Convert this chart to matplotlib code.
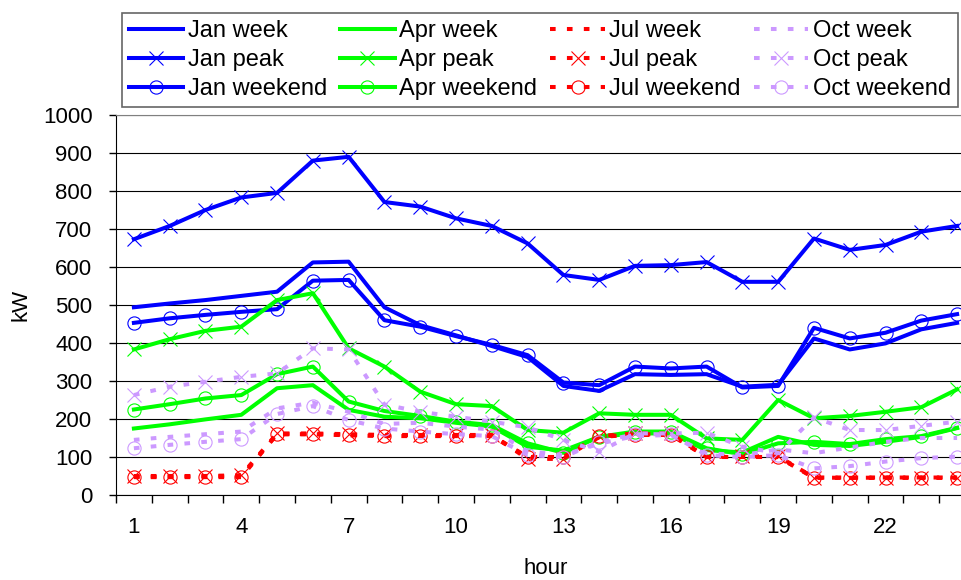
import numpy as np
import matplotlib.pyplot as plt

plt.rcParams['font.family'] = ['Liberation Sans', 'DejaVu Sans']

hours = list(range(1, 25))

jan_week = [494, 504, 513, 524, 535, 612, 614, 494, 447, 420, 392, 363,
            287, 274, 318, 316, 318, 285, 290, 412, 383, 399, 436, 453]
jan_peak = [673, 708, 750, 783, 795, 880, 890, 771, 759, 728, 708, 662,
            579, 566, 603, 605, 613, 561, 561, 675, 645, 658, 693, 708]
jan_weekend = [453, 465, 474, 482, 489, 564, 566, 460, 443, 418, 395, 368,
               296, 289, 338, 333, 338, 283, 287, 440, 412, 427, 459, 476]

apr_week = [175, 186, 199, 211, 281, 289, 224, 206, 202, 190, 180, 127,
            117, 153, 162, 162, 118, 112, 153, 132, 129, 140, 153, 176]
apr_peak = [383, 410, 432, 443, 513, 531, 386, 338, 272, 239, 234, 171,
            164, 215, 211, 211, 149, 145, 250, 202, 208, 219, 231, 278]
apr_weekend = [225, 239, 254, 263, 318, 338, 246, 221, 208, 193, 184, 136,
               111, 153, 167, 167, 123, 107, 136, 140, 134, 147, 155, 177]

jul_week = [48, 48, 50, 50, 160, 160, 158, 157, 157, 157, 157, 100,
            100, 152, 160, 160, 100, 100, 100, 46, 46, 46, 46, 46]
jul_peak = [50, 50, 50, 52, 162, 162, 160, 158, 158, 158, 158, 95,
            95, 155, 162, 162, 100, 102, 102, 46, 45, 46, 46, 46]
jul_weekend = [47, 47, 47, 47, 160, 160, 157, 155, 155, 155, 155, 100,
               100, 155, 158, 158, 100, 100, 100, 45, 45, 45, 45, 45]

oct_week = [145, 153, 160, 167, 228, 243, 219, 187, 190, 180, 172, 115,
            105, 135, 155, 158, 110, 105, 120, 110, 125, 140, 150, 150]
oct_peak = [263, 285, 298, 311, 320, 386, 383, 238, 219, 206, 193, 178,
            145, 114, 162, 162, 164, 127, 110, 204, 171, 171, 182, 193]
oct_weekend = [123, 132, 140, 147, 213, 234, 197, 175, 167, 160, 155, 105,
               100, 140, 160, 160, 105, 100, 105, 70, 76, 88, 97, 101]

months = ['Jan', 'Apr', 'Jul', 'Oct']
colors = ['#0000FF', '#00FF00', '#FF0000', '#CC99FF']
series = {
    'Jan': (jan_week, jan_peak, jan_weekend),
    'Apr': (apr_week, apr_peak, apr_weekend),
    'Jul': (jul_week, jul_peak, jul_weekend),
    'Oct': (oct_week, oct_peak, oct_weekend),
}
styles = {'Jan': '-', 'Apr': '-', 'Jul': (0, (1.4, 2.8)), 'Oct': (0, (1.4, 2.8))}

fig = plt.figure(figsize=(9.62, 5.8), dpi=100)
ax = fig.add_axes([116 / 962, 85 / 580, 859 / 962, 380 / 580])

lw = 2.9
for m, c in zip(months, colors):
    week, peak, weekend = series[m]
    ls = styles[m]
    ax.plot(hours, week, color=c, lw=lw, ls=ls, label=m + ' week')
    ax.plot(hours, peak, color=c, lw=lw, ls=ls, marker='x', ms=9.5,
            mew=0.8, label=m + ' peak')
    ax.plot(hours, weekend, color=c, lw=lw, ls=ls, marker='o', ms=9.5,
            mew=0.8, mfc='none', label=m + ' weekend')

ax.set_xlim(0.5, 24.5)
ax.set_ylim(0, 1000)
ax.set_yticks(np.arange(0, 1001, 100))
ax.yaxis.grid(True, color='black', lw=0.8)
ax.set_axisbelow(True)

# labels every third hour, tick marks between the hours
ax.set_xticks(np.arange(1, 25, 3))
ax.set_xticks(np.arange(0.5, 25, 1), minor=True)
ax.tick_params(axis='x', which='major', length=0, pad=16, labelsize=16)
ax.tick_params(axis='x', which='minor', length=6, width=1, direction='out')
ax.tick_params(axis='y', length=5, width=1, direction='out', pad=12, labelsize=16)

ax.spines['top'].set_color('#808080')
ax.spines['right'].set_visible(False)
ax.set_xlabel('hour', fontsize=16, labelpad=14)
ax.set_ylabel('kW', fontsize=16, labelpad=8)

leg = fig.legend(loc='upper left', bbox_to_anchor=(122 / 962, 1 - 13 / 580),
                 ncol=4, fontsize=17, handlelength=2.3, handletextpad=0.2,
                 columnspacing=0.55, labelspacing=0.3, borderpad=0.3,
                 borderaxespad=0, frameon=True, fancybox=False)
leg.get_frame().set_edgecolor('#404040')
leg.get_frame().set_linewidth(1.2)

fig.savefig('out.png', dpi=100)
